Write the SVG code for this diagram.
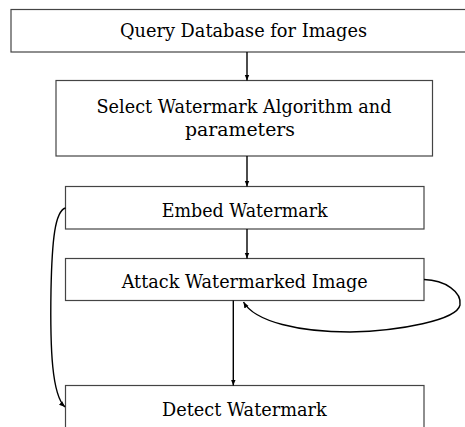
<svg xmlns="http://www.w3.org/2000/svg" width="465" height="427" viewBox="0 0 465 427">
<style>
.box{fill:#fff;stroke:#444;stroke-width:1.2}
.t{font-family:"DejaVu Serif","Liberation Serif",serif;font-size:18px;fill:#000;text-anchor:middle}
.c{fill:none;stroke:#000;stroke-width:1.4}
</style>
<defs>
<marker id="ah" viewBox="0 0 10 10" refX="10" refY="5" markerWidth="6" markerHeight="6" orient="auto" markerUnits="userSpaceOnUse">
<path d="M0,1 L10,5 L0,9 z" fill="#000"/>
</marker>
</defs>
<rect width="465" height="427" fill="#fff"/>
<g id="n1"><rect class="box" x="11" y="9.5" width="460" height="42.5"/><text class="t" x="243.5" y="37" textLength="247" lengthAdjust="spacingAndGlyphs">Query Database for Images</text></g>
<g id="n2"><rect class="box" x="56" y="80.5" width="376.5" height="75.5"/><text class="t" x="244" y="113" textLength="295" lengthAdjust="spacingAndGlyphs">Select Watermark Algorithm and</text><text class="t" x="240" y="135.5" textLength="110" lengthAdjust="spacingAndGlyphs">parameters</text></g>
<g id="n3"><rect class="box" x="65.5" y="186.5" width="358.5" height="42.5"/><text class="t" x="244.7" y="216.5" textLength="166" lengthAdjust="spacingAndGlyphs">Embed Watermark</text></g>
<g id="n4"><rect class="box" x="65.5" y="258.5" width="358.5" height="42"/><text class="t" x="244.7" y="288" textLength="246" lengthAdjust="spacingAndGlyphs">Attack Watermarked Image</text></g>
<g id="n5"><rect class="box" x="65.5" y="385.5" width="358.5" height="50"/><text class="t" x="244.4" y="415.5" textLength="164.7" lengthAdjust="spacingAndGlyphs">Detect Watermark</text></g>
<g id="connectors">
<path class="c" d="M247,52 L247,80.5" marker-end="url(#ah)"/>
<path class="c" d="M247,156 L247,186.5" marker-end="url(#ah)"/>
<path class="c" d="M247,229 L247,258.5" marker-end="url(#ah)"/>
<path class="c" d="M233.3,300.5 L233.3,385.5" marker-end="url(#ah)"/>
<path class="c" d="M424,279.5 C445,280 462,292 460,305 C457,320 400,331 350,332 C300,332 255,322 243.5,302" marker-end="url(#ah)"/>
<path class="c" d="M65.5,208 C55,211 52,240 51,290 C50,350 52,395 65,407" marker-end="url(#ah)"/>
</g>
</svg>
